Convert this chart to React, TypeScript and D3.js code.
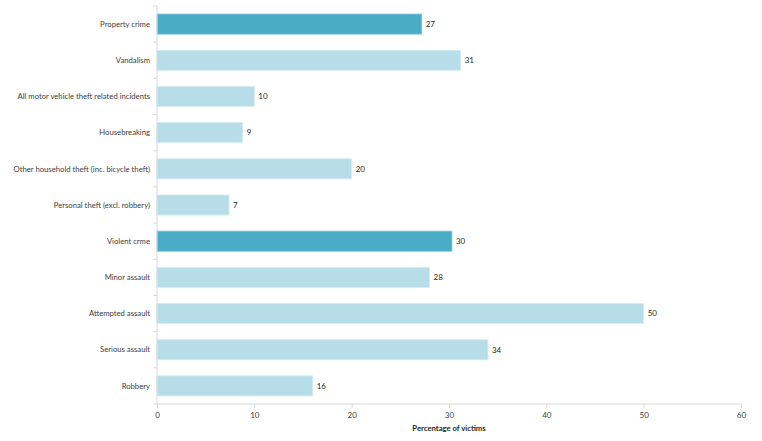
import React, { useEffect, useRef } from 'react';
import * as d3 from 'd3';

const categories = [
  'Property crime',
  'Vandalism',
  'All motor vehicle theft related incidents',
  'Housebreaking',
  'Other household theft (inc. bicycle theft)',
  'Personal theft (excl. robbery)',
  'Violent crme',
  'Minor assault',
  'Attempted assault',
  'Serious assault',
  'Robbery',
];
const values = [27.2, 31.2, 10.0, 8.8, 20.0, 7.4, 30.3, 28.0, 50.0, 34.0, 16.0];
const headline = [true, false, false, false, false, false, true, false, false, false, false];
const xTicks = [0, 10, 20, 30, 40, 50, 60];
const xTitle = 'Percentage of victims';

const W = 762;
const H = 441;

const App: React.FC = () => {
  const svgRef = useRef<SVGSVGElement>(null);

  useEffect(() => {
    if (!svgRef.current) return;
    const svg = d3.select(svgRef.current);
    svg.selectAll('*').remove();

    const margin = { top: 6, right: 21, bottom: 37, left: 157 };
    const x = d3.scaleLinear().domain([0, 60]).range([margin.left, W - margin.right]);
    const y = d3.scaleBand<string>()
      .domain(categories)
      .range([margin.top, H - margin.bottom])
      .paddingInner(0.445)
      .paddingOuter(0.2225);

    const font = 'Lato, "Open Sans", sans-serif';
    const step = y.step();

    // bars
    svg.append('g')
      .selectAll('rect')
      .data(categories)
      .enter()
      .append('rect')
      .attr('x', x(0))
      .attr('y', d => y(d)!)
      .attr('width', (_, i) => x(values[i]) - x(0))
      .attr('height', y.bandwidth())
      .attr('fill', (_, i) => (headline[i] ? '#4BACC6' : '#B7DDE8'))
      .attr('stroke', (_, i) => (headline[i] ? '#7CC3D6' : '#D6EDF3'))
      .attr('stroke-width', 0.8);

    // value labels
    svg.append('g')
      .selectAll('text')
      .data(categories)
      .enter()
      .append('text')
      .attr('x', (_, i) => x(values[i]) + 4)
      .attr('y', d => y(d)! + y.bandwidth() / 2)
      .attr('dy', '0.35em')
      .style('font-family', font)
      .style('font-size', '8px')
      .style('fill', '#262626')
      .text((_, i) => d3.format('.0f')(values[i]));

    // y axis line + ticks between categories
    const axisColor = '#D9D9D9';
    svg.append('line')
      .attr('x1', x(0)).attr('x2', x(0))
      .attr('y1', margin.top).attr('y2', H - margin.bottom)
      .attr('stroke', axisColor);
    svg.append('g')
      .selectAll('line')
      .data(d3.range(categories.length + 1))
      .enter()
      .append('line')
      .attr('x1', x(0) - 4).attr('x2', x(0))
      .attr('y1', i => margin.top + i * step)
      .attr('y2', i => margin.top + i * step)
      .attr('stroke', axisColor);

    // category labels
    svg.append('g')
      .selectAll('text')
      .data(categories)
      .enter()
      .append('text')
      .attr('x', x(0) - 7)
      .attr('y', d => y(d)! + y.bandwidth() / 2)
      .attr('dy', '0.35em')
      .attr('text-anchor', 'end')
      .style('font-family', font)
      .style('font-size', '7.7px')
      .style('fill', '#404040')
      .text(d => d);

    // x axis
    const xAxis = svg.append('g')
      .attr('transform', `translate(0, ${H - margin.bottom})`)
      .call(d3.axisBottom(x).tickValues(xTicks).tickSize(4).tickPadding(4));
    xAxis.select('.domain').attr('stroke', axisColor).attr('d', `M${x(0)},0H${x(60)}`);
    xAxis.selectAll('.tick line').attr('stroke', axisColor);
    xAxis.selectAll('.tick text')
      .style('font-family', font)
      .style('font-size', '8px')
      .style('fill', '#404040');

    svg.append('text')
      .attr('x', (x(0) + x(60)) / 2)
      .attr('y', 431)
      .attr('text-anchor', 'middle')
      .style('font-family', font)
      .style('font-size', '7.7px')
      .style('font-weight', 'bold')
      .style('fill', '#262626')
      .text(xTitle);
  }, []);

  return (
    <div style={{ position: 'fixed', top: 0, left: 0, background: '#fff' }}>
      <svg ref={svgRef} width={W} height={H}></svg>
    </div>
  );
};

export default App;
